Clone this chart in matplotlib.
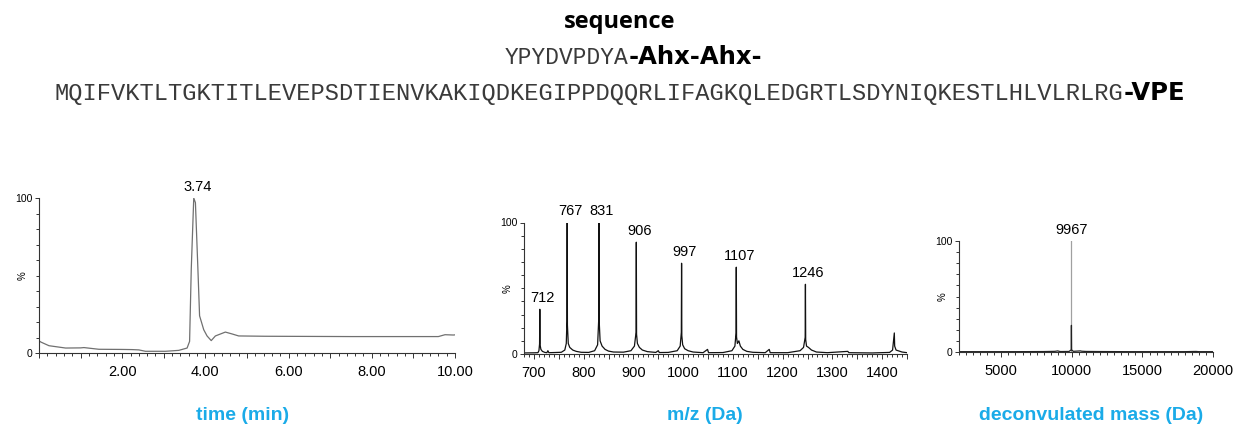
import matplotlib
matplotlib.use("Agg")
import matplotlib.pyplot as plt
from matplotlib.ticker import FixedLocator, MultipleLocator, FuncFormatter

plt.rcParams["font.family"] = ["Liberation Sans", "DejaVu Sans"]

# sequence header
seq_title = "sequence"
tag_seq = "YPYDVPDYA"
tag_linker = "-Ahx-Ahx-"
main_seq = "MQIFVKTLTGKTITLEVEPSDTIENVKAKIQDKEGIPPDQQRLIFAGKQLEDGRTLSDYNIQKESTLHLVLRLRG"
main_end = "-VPE"

# LC trace (time in min, relative intensity %)
lc_time = [0.0, 0.05, 0.24, 0.64, 1.0, 1.08, 1.44, 2.0, 2.24, 2.4, 2.56, 3.04, 3.36,
           3.56, 3.62, 3.66, 3.72, 3.76, 3.82, 3.86, 3.96, 4.04, 4.14, 4.24, 4.48,
           4.64, 4.8, 5.44, 6.5, 7.5, 8.5, 9.6, 9.76, 9.96, 10.0]
lc_int = [7.8, 7.0, 4.7, 3.2, 3.3, 3.5, 2.4, 2.3, 2.2, 2.0, 1.1, 1.1, 1.7,
          3.2, 7.5, 54, 100, 97, 54, 24, 15, 11, 8, 11, 13.5,
          12.3, 11.0, 10.8, 10.7, 10.6, 10.6, 10.6, 11.8, 11.6, 11.7]
lc_peak = 3.74

# raw ESI spectrum (m/z, relative intensity %)
ms_mz = [680, 700, 708, 710, 711.3, 711.8, 712.3, 714, 717, 722, 726, 728, 730, 740,
         755, 762, 765, 766.3, 766.8, 767.3, 769, 772, 778, 785, 795, 810,
         822, 828, 830.3, 830.8, 831.3, 833, 837, 843, 850, 860, 880,
         895, 902, 905.3, 905.8, 906.3, 908, 912, 918, 928, 945, 950, 952, 970,
         988, 994, 996.3, 996.8, 997.3, 999, 1003, 1010, 1020, 1040, 1049, 1051, 1080,
         1098, 1104, 1106.3, 1106.8, 1107.3, 1109, 1112, 1115, 1120, 1128, 1140, 1165,
         1173, 1175, 1210, 1235, 1242, 1245.3, 1245.8, 1246.3, 1248, 1252, 1258, 1268,
         1290, 1331, 1333, 1380, 1415, 1421, 1424.5, 1425.2, 1428, 1432, 1440, 1450]
ms_int = [0.8, 0.9, 1.0, 2.5, 7.6, 34, 7.0, 3.5, 2.0, 1.2, 1.0, 2.5, 1.0, 1.1,
          1.3, 3.0, 8.0, 25, 100, 22, 8.0, 5.0, 3.0, 2.0, 1.3, 1.2,
          2.5, 7.0, 27, 100, 24, 10, 6.0, 3.5, 2.2, 1.5, 1.4,
          2.5, 6.0, 16.5, 85, 15, 8.0, 5.0, 3.0, 1.8, 1.2, 2.5, 1.1, 1.2,
          2.5, 6.0, 16.5, 69, 14, 7.0, 4.0, 2.5, 1.5, 1.0, 3.5, 1.0, 1.1,
          2.5, 6.0, 16, 66, 13, 8.0, 10, 6.0, 3.5, 2.0, 1.3, 1.0,
          3.5, 1.0, 1.0, 2.5, 5.0, 12.7, 53, 11, 6.0, 5.0, 3.0, 1.5,
          1.0, 2.0, 1.0, 0.8, 1.2, 3.0, 16, 6.0, 3.0, 2.5, 1.5, 1.0]
ms_labels = [712, 767, 831, 906, 997, 1107, 1246]
ms_label_int = [34, 100, 100, 85, 69, 66, 53]

# deconvoluted spectrum (Da, relative intensity %), base trace + main peak
dc_mass = [2000, 4000, 6000, 8000, 8800, 9000, 9100, 9200, 9800, 9955, 9967, 9979,
           10100, 10600, 10700, 11000, 12000, 14000, 16000, 18000, 18800, 19000, 20000]
dc_int = [0.3, 0.3, 0.3, 0.4, 0.6, 1.0, 0.6, 0.4, 0.5, 2.0, 24, 2.0,
          0.6, 1.0, 0.7, 0.5, 0.4, 0.3, 0.3, 0.3, 0.5, 0.3, 0.3]
dc_peak = 9967
dc_top = 100

blue = "#1AABE8"
W, H = 1240, 425
fig = plt.figure(figsize=(W / 100, H / 100), dpi=100)


def style_axis(ax, xlim, width_px):
    ax.set_xlim(*xlim)
    ax.set_ylim(0, 100)
    for s in ["top", "right"]:
        ax.spines[s].set_visible(False)
    for s in ["left", "bottom"]:
        ax.spines[s].set_linewidth(0.8)
        ax.spines[s].set_color("#333333")
    ax.yaxis.set_major_locator(FixedLocator([0, 100]))
    ax.yaxis.set_minor_locator(MultipleLocator(10))
    ax.tick_params(axis="both", which="both", direction="out", color="#333333", width=0.7)
    ax.tick_params(axis="x", which="major", length=3.5, labelsize=10.5, pad=5)
    ax.tick_params(axis="x", which="minor", length=1.8)
    ax.tick_params(axis="y", which="major", length=3, labelsize=7.5, pad=1.5)
    ax.tick_params(axis="y", which="minor", length=2)
    ax.set_ylabel("%", fontsize=7)
    ax.yaxis.set_label_coords(-11 / width_px, 0.5)


# LC trace
ax1 = fig.add_axes([39 / W, 1 - 353 / H, 416 / W, 155 / H])
ax1.plot(lc_time, lc_int, color="#707070", lw=0.9)
style_axis(ax1, (0, 10), 416)
ax1.xaxis.set_major_locator(MultipleLocator(1))
ax1.xaxis.set_minor_locator(MultipleLocator(0.2))
ax1.xaxis.set_major_formatter(FuncFormatter(lambda v, p: f"{v:.2f}" if v > 0 and round(v) % 2 == 0 else ""))
ax1.annotate(f"{lc_peak:.2f}", xy=(lc_peak, 100), xytext=(2, 3), textcoords="offset points",
             ha="center", va="bottom", fontsize=10.5)
fig.text(243 / W, 1 - 420 / H, "time (min)", ha="center", va="baseline",
         fontsize=14, fontweight="bold", color=blue)

# raw MS
ax2 = fig.add_axes([524 / W, 1 - 354 / H, 383 / W, 131.5 / H])
ax2.plot(ms_mz, ms_int, color="#111111", lw=0.9)
style_axis(ax2, (680, 1450), 383)
ax2.xaxis.set_major_locator(MultipleLocator(50))
ax2.xaxis.set_minor_locator(MultipleLocator(10))
ax2.xaxis.set_major_formatter(FuncFormatter(lambda v, p: f"{v:.0f}" if round(v) % 100 == 0 else ""))
for mz, h in zip(ms_labels, ms_label_int):
    ax2.annotate(str(mz), xy=(mz, h), xytext=(2, 3), textcoords="offset points",
                 ha="center", va="bottom", fontsize=10.5)
fig.text(705 / W, 1 - 420 / H, "m/z (Da)", ha="center", va="baseline",
         fontsize=14, fontweight="bold", color=blue)

# deconvoluted MS
ax3 = fig.add_axes([959 / W, 1 - 352 / H, 254 / W, 111 / H])
ax3.plot([dc_peak, dc_peak], [0, dc_top], color="#a0a0a0", lw=0.9)
ax3.plot(dc_mass, dc_int, color="#222222", lw=0.9)
style_axis(ax3, (2000, 20000), 254)
ax3.xaxis.set_major_locator(MultipleLocator(5000))
ax3.xaxis.set_minor_locator(MultipleLocator(500))
ax3.annotate(str(dc_peak), xy=(dc_peak, dc_top), xytext=(0, 3), textcoords="offset points",
             ha="center", va="bottom", fontsize=10.5)
fig.text(1091 / W, 1 - 420 / H, "deconvulated mass (Da)", ha="center", va="baseline",
         fontsize=14, fontweight="bold", color=blue)

# header text
fig.text(620 / W, 1 - 28 / H, seq_title, ha="center", va="baseline",
         fontsize=17, fontweight="bold", family="Open Sans")
mono = dict(family="Liberation Mono", color="#3a3a3a", va="baseline")
bold = dict(family="DejaVu Sans", fontweight="bold", fontsize=17.5, color="black", va="baseline")
t2 = fig.text(505 / W, 1 - 64 / H, tag_seq, fontsize=16.5, **mono)
t3 = fig.text(55 / W, 1 - 100 / H, main_seq, fontsize=17.1, **mono)
fig.canvas.draw()
r = fig.canvas.get_renderer()
b2 = t2.get_window_extent(r)
b3 = t3.get_window_extent(r)
fig.text(b2.x1 / W, 1 - 64 / H, tag_linker, **bold)
fig.text(b3.x1 / W, 1 - 100 / H, main_end, **bold)

fig.savefig("out.png", dpi=100)
